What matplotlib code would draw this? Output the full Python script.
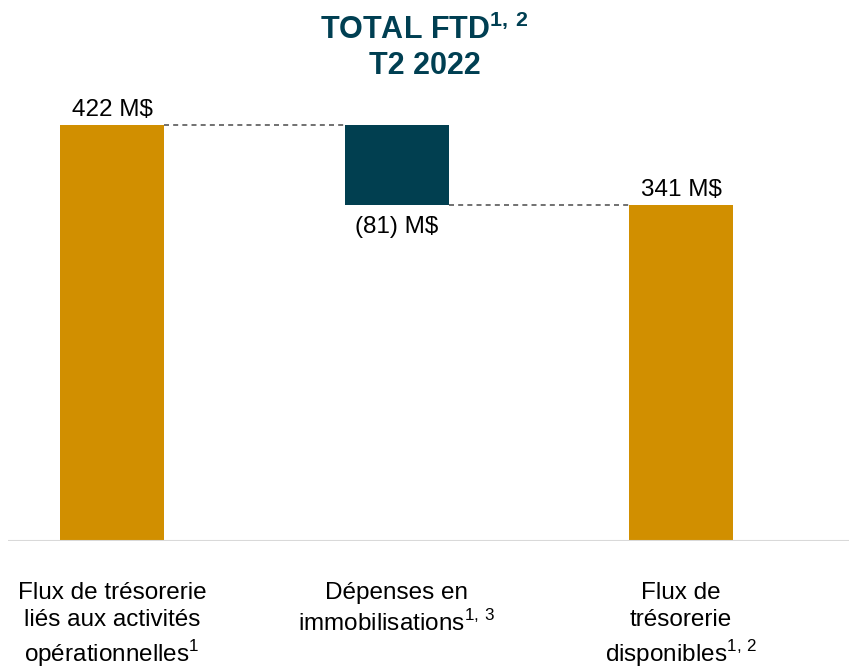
import numpy as np
import matplotlib.pyplot as plt

plt.rcParams['font.family'] = ['Liberation Sans', 'DejaVu Sans']
plt.rcParams['mathtext.fontset'] = 'custom'
plt.rcParams['mathtext.rm'] = 'Liberation Sans'
plt.rcParams['mathtext.bf'] = 'Liberation Sans:bold'

categories = ["Flux de trésorerie\nliés aux activités\nopérationnelles$^{1}$",
              "Dépenses en\nimmobilisations$^{1,\\,3}$",
              "Flux de\ntrésorerie\ndisponibles$^{1,\\,2}$"]
values = [422, -81, 341]
is_total = [False, False, True]
value_labels = ["422 M$", "(81) M$", "341 M$"]

gold = '#D18F00'
teal = '#013F50'

# waterfall bottoms
bottoms = []
heights = []
running = 0
for v, tot in zip(values, is_total):
    if tot:
        bottoms.append(0)
        heights.append(v)
        running = v
    elif v >= 0:
        bottoms.append(running)
        heights.append(v)
        running += v
    else:
        bottoms.append(running + v)
        heights.append(-v)
        running += v
colors = [gold if (v >= 0) else teal for v in values]

fig = plt.figure(figsize=(8.49, 6.70), dpi=100)
ax = fig.add_axes([8 / 849, (670 - 541) / 670, 1 - 8 / 849, (541 - 100) / 670])

x = np.arange(len(values))
w = 0.366
ax.bar(x, heights, bottom=bottoms, width=w, color=colors, zorder=2)

# connectors
tops = [b + h for b, h in zip(bottoms, heights)]
levels = [values[0], values[0] + values[1]]
for i in range(len(values) - 1):
    lvl = levels[i]
    ax.plot([x[i] + w / 2, x[i + 1] - w / 2], [lvl, lvl], ls=(0, (3, 2.5)),
            color='#595959', lw=1.2, zorder=1)

ax.axhline(0, color='#d9d9d9', lw=1.5, zorder=3)

# value labels
for i, (v, lab) in enumerate(zip(values, value_labels)):
    if v >= 0:
        ax.text(x[i], tops[i] + 4, lab, ha='center', va='bottom', fontsize=17.5)
    else:
        ax.text(x[i], bottoms[i] - 12, lab, ha='center', va='top', fontsize=17.5)

ax.set_xlim(-0.366, 2.59)
ax.set_ylim(0, 447)
ax.axis('off')

for i, cat in enumerate(categories):
    xf = (8 + (x[i] + 0.366) / (2.59 + 0.366) * 841) / 849
    fig.text(xf, 1 - 582 / 670, cat, ha='center', va='top', fontsize=17.5,
             linespacing=1.3)

fig.text(0.5, 1 - 15 / 670, "TOTAL FTD$^{\\mathbf{1,\\,2}}$\nT2 2022", ha='center', va='top',
         fontsize=22, fontweight='bold', color='#003F52', linespacing=1.2)

fig.savefig('out.png', dpi=100)
